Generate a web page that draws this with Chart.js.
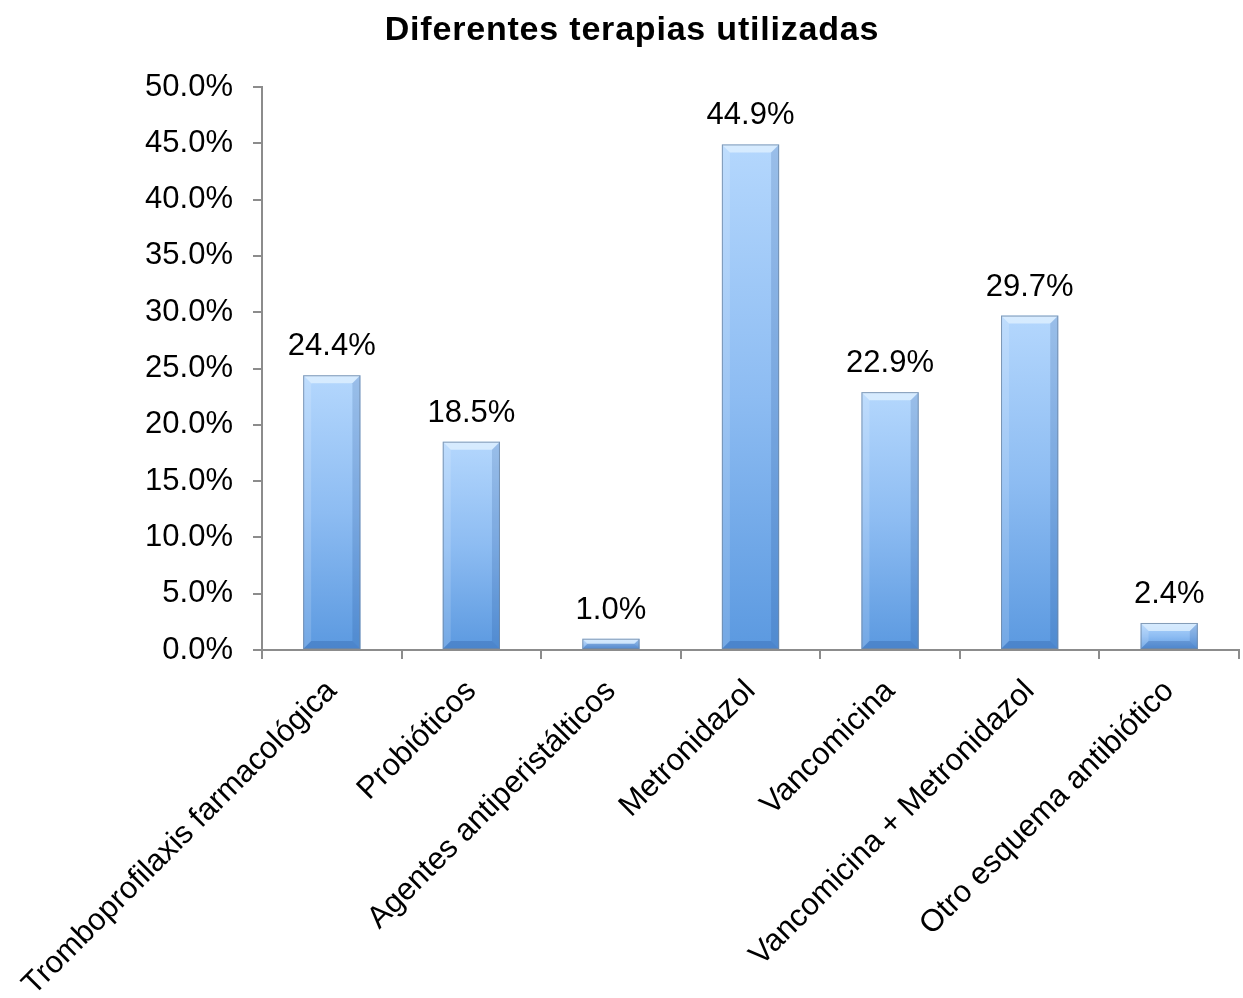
<!DOCTYPE html>
<html>
<head>
<meta charset="utf-8">
<script src="https://cdn.jsdelivr.net/npm/chart.js@4.4.1/dist/chart.umd.min.js"></script>
<style>
  html, body { margin: 0; padding: 0; background: #fff; }
  #wrap { width: 1243px; height: 998px; }
</style>
</head>
<body>
<div id="wrap"><canvas id="canvas" width="1243" height="998"></canvas></div>
<script>
// terapias y porcentajes
const titulo = "Diferentes terapias utilizadas"
const terapias = ["Tromboprofilaxis farmacológica", "Probióticos", "Agentes antiperistálticos", "Metronidazol", "Vancomicina", "Vancomicina + Metronidazol", "Otro esquema antibiótico"]
const porcentajes = [24.4, 18.5, 1.0, 44.9, 22.9, 29.7, 2.4]
const ejeMax = 50
const ejePaso = 5

const fuente = "'Liberation Sans', Arial, sans-serif"
const gris = "#8c8c8c"
const tam = 31

// degradado vertical propio de cada barra (claro arriba, oscuro abajo)
function colorBarra(c) {
  const ch = c.chart
  const y = ch.scales.y
  if (!ch.chartArea || !y || c.parsed == null) return "#7fb2ee"
  const top = y.getPixelForValue(c.parsed.y)
  const base = y.getPixelForValue(0)
  const g = ch.ctx.createLinearGradient(0, top, 0, base)
  g.addColorStop(0, "#b4d7fd")
  g.addColorStop(0.5, "#8dbcf2")
  g.addColorStop(1, "#5b99e0")
  return g
}

// efecto biselado + etiquetas de valor
const bisel = {
  id: "bisel",
  afterDatasetsDraw(chart) {
    const ctx = chart.ctx
    const meta = chart.getDatasetMeta(0)
    meta.data.forEach(function (bar, i) {
      const p = bar.getProps(["x", "y", "base", "width"], true)
      const L = p.x - p.width / 2, R = p.x + p.width / 2, T = p.y, B = p.base
      const b = Math.min(8, (B - T) / 2)
      ctx.save()
      // cara superior
      ctx.fillStyle = "rgba(230,243,255,0.7)"
      ctx.beginPath(); ctx.moveTo(L, T); ctx.lineTo(R, T); ctx.lineTo(R - b, T + b); ctx.lineTo(L + b, T + b); ctx.closePath(); ctx.fill()
      // cara izquierda
      ctx.fillStyle = "rgba(255,255,255,0.15)"
      ctx.beginPath(); ctx.moveTo(L, T); ctx.lineTo(L + b, T + b); ctx.lineTo(L + b, B - b); ctx.lineTo(L, B); ctx.closePath(); ctx.fill()
      // cara derecha
      ctx.fillStyle = "rgba(20,60,130,0.16)"
      ctx.beginPath(); ctx.moveTo(R, T); ctx.lineTo(R - b, T + b); ctx.lineTo(R - b, B - b); ctx.lineTo(R, B); ctx.closePath(); ctx.fill()
      // cara inferior
      ctx.fillStyle = "rgba(20,60,130,0.22)"
      ctx.beginPath(); ctx.moveTo(L, B); ctx.lineTo(R, B); ctx.lineTo(R - b, B - b); ctx.lineTo(L + b, B - b); ctx.closePath(); ctx.fill()
      // contorno
      ctx.strokeStyle = "rgba(110,135,165,0.8)"
      ctx.lineWidth = 1
      ctx.strokeRect(L + 0.5, T + 0.5, R - L - 1, B - T - 1)
      // valor
      ctx.fillStyle = "#000"
      ctx.font = tam + "px " + fuente
      ctx.textAlign = "center"
      ctx.textBaseline = "alphabetic"
      ctx.fillText(porcentajes[i].toFixed(1) + "%", p.x, T - 20)
      ctx.restore()
    })
  }
}

// titulo dibujado a mano para poder centrarlo donde va
const tituloPlugin = {
  id: "tituloPlugin",
  afterDraw(chart) {
    const ctx = chart.ctx
    ctx.save()
    ctx.fillStyle = "#000"
    ctx.font = "bold 34px " + fuente
    ctx.letterSpacing = "0.8px"
    ctx.textAlign = "center"
    ctx.textBaseline = "alphabetic"
    ctx.fillText(titulo, 632, 40)
    ctx.restore()
  }
}

const canvas = document.getElementById("canvas")

const config = {
  type: "bar",
  data: {
    labels: terapias,
    datasets: [{
      data: porcentajes,
      backgroundColor: colorBarra,
      borderWidth: 0,
      categoryPercentage: 1,
      barPercentage: 0.41
    }]
  },
  options: {
    responsive: false,
    animation: false,
    devicePixelRatio: 1,
    layout: { padding: { top: 87, right: 4, left: 0, bottom: 0 } },
    plugins: {
      legend: { display: false },
      title: { display: false },
      tooltip: { enabled: false }
    },
    scales: {
      x: {
        grid: { display: true, drawOnChartArea: false, offset: true, color: gris, lineWidth: 2, tickLength: 9 },
        border: { color: gris, width: 2 },
        ticks: {
          color: "#000", font: { family: fuente, size: tam },
          minRotation: 45, maxRotation: 45, padding: 14, autoSkip: false
        },
        afterFit(scale) {
          scale.height = 348
          scale.paddingLeft = 0
          scale.paddingRight = 0
        }
      },
      y: {
        min: 0, max: ejeMax,
        grid: { display: true, drawOnChartArea: false, color: gris, lineWidth: 2, tickLength: 9 },
        border: { color: gris, width: 2 },
        ticks: {
          stepSize: ejePaso, color: "#000", font: { family: fuente, size: tam }, padding: 20,
          callback: function (v) { return v.toFixed(1) + "%" }
        },
        afterFit(scale) { scale.width = 262 }
      }
    }
  },
  plugins: [bisel, tituloPlugin]
}

var chart = new Chart(canvas, config)
</script>
</body>
</html>
